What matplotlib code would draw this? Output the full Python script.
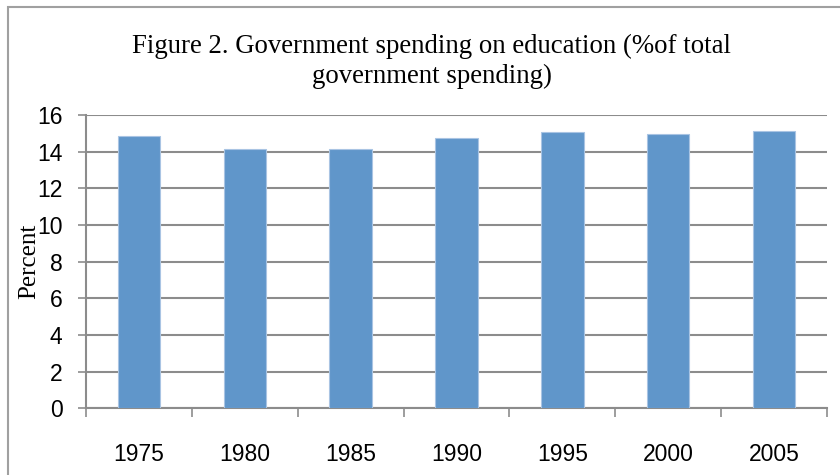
import matplotlib
matplotlib.use("Agg")
import matplotlib.pyplot as plt
from matplotlib.patches import Rectangle

# dados
anos = ["1975", "1980", "1985", "1990", "1995", "2000", "2005"]
percentual = [14.87, 14.16, 14.13, 14.75, 15.06, 14.95, 15.13]
y_ticks = [0, 2, 4, 6, 8, 10, 12, 14, 16]

cinza = "#8c8c8c"
fonte_num = "Liberation Sans"

fig = plt.figure(figsize=(8.4, 4.75), dpi=100)
fig.patches.append(Rectangle((8 / 840, -0.1), 1.2, (475 - 7) / 475 + 0.1,
                             transform=fig.transFigure, fill=False,
                             edgecolor="#a0a0a0", linewidth=1.5))

ax = fig.add_axes([86 / 840, 1 - 408.3 / 475, (827 - 86) / 840, (408.3 - 115) / 475])
x = list(range(len(anos)))
ax.bar(x, percentual, width=0.4, color="#6096ca", edgecolor="#a9c4e3", linewidth=0.8, zorder=3)

ax.set_xlim(-0.5, len(anos) - 0.5)
ax.set_ylim(0, 16)
ax.set_yticks(y_ticks)
ax.set_yticklabels([str(v) for v in y_ticks], fontfamily=fonte_num, fontsize=16.5)
ax.set_xticks(x)
ax.set_xticklabels(anos, fontfamily=fonte_num, fontsize=16.5)
ax.set_xticks([i - 0.5 for i in range(len(anos) + 1)], minor=True)
ax.tick_params(axis="x", which="major", length=0, pad=25)
ax.tick_params(axis="x", which="minor", length=6.5, width=1.2, color=cinza, direction="out")
ax.tick_params(axis="y", length=6, width=1.2, color=cinza, pad=11)

ax.grid(axis="y", color=cinza, linewidth=1.5, zorder=0)
for lado in ["top", "right"]:
    ax.spines[lado].set_visible(False)
for lado in ["left", "bottom"]:
    ax.spines[lado].set_color(cinza)
    ax.spines[lado].set_linewidth(1.5)

fig.text(0.514, 1 - 61 / 475, "Figure 2. Government spending on education (%of total\ngovernment spending)",
         ha="center", va="center", fontfamily="Liberation Serif", fontsize=19.3, linespacing=1.25)
fig.text(29 / 840, 1 - 261 / 475, "Percent", rotation=90, ha="center", va="center",
         fontfamily="Liberation Serif", fontsize=18)

fig.savefig("out.png", dpi=100)
